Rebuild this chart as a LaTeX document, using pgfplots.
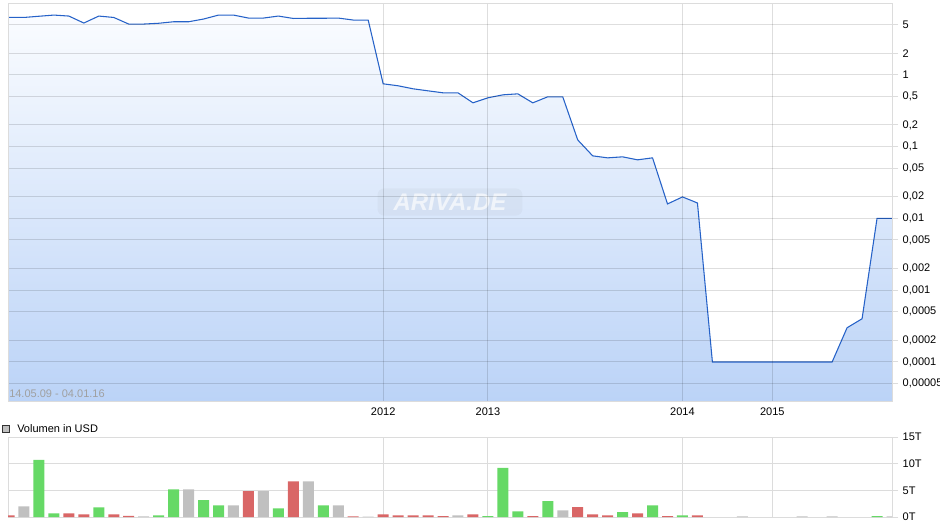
\documentclass[border=0pt]{standalone}
\usepackage{pgfplots}
\pgfplotsset{compat=1.18}
\usepackage{pgfplotstable}
\usepackage{fontspec}
\setmainfont{Liberation Sans}
\definecolor{gridc}{RGB}{220,220,220}
\definecolor{linec}{RGB}{38,98,200}
\definecolor{filltop}{RGB}{250,252,255}
\definecolor{fillbot}{RGB}{187,211,247}
\definecolor{vgreen}{RGB}{102,217,102}
\definecolor{vred}{RGB}{217,102,102}
\definecolor{vgray}{RGB}{192,192,192}
\definecolor{datec}{RGB}{160,160,160}
\pgfplotstableread{
i v
0 6.29
1 6.29
2 6.54
3 6.79
4 6.58
5 5.26
6 6.58
7 6.29
8 5.09
9 5.09
10 5.22
11 5.48
12 5.48
13 5.98
14 6.79
15 6.79
16 6.17
17 6.17
18 6.58
19 6.09
20 6.13
21 6.13
22 6.17
23 5.79
24 5.79
25 0.749
26 0.703
27 0.638
28 0.598
29 0.561
30 0.561
31 0.407
32 0.478
33 0.526
34 0.543
35 0.407
36 0.494
37 0.494
38 0.124
39 0.0743
40 0.0697
41 0.0720
42 0.0654
43 0.0697
44 0.0159
45 0.0199
46 0.0164
47 0.0001
48 0.0001
49 0.0001
50 0.0001
51 0.0001
52 0.0001
53 0.0001
54 0.0001
55 0.0001
56 0.0003
57 0.0004
58 0.01
59 0.01
}\price
\pgfplotstableread{
i v
2 10.7
3 0.7
6 1.8
10 0.3
11 5.2
13 3.15
14 2.2
18 1.6
21 2.2
32 0.15
33 9.2
34 1.07
36 2.96
41 0.9
43 2.2
45 0.3
58 0.15
}\volgreen
\pgfplotstableread{
i v
0 0.3
4 0.7
5 0.5
7 0.5
8 0.2
16 4.85
19 6.7
23 0.1
25 0.5
26 0.3
27 0.3
28 0.3
29 0.15
31 0.5
35 0.15
38 1.83
39 0.5
40 0.3
42 0.7
44 0.15
46 0.3
}\volred
\pgfplotstableread{
i v
1 2.0
9 0.1
12 5.2
15 2.2
17 4.85
20 6.7
22 2.2
24 0.05
30 0.3
37 1.26
49 0.1
53 0.1
55 0.1
59 0.1
}\volgray
\newcommand\lab{\fontsize{8.25}{10}\selectfont}
\begin{document}
\begin{tikzpicture}
\useasboundingbox (0pt,0pt) rectangle (705pt,394.5pt);
\begin{axis}[
  at={(6pt,93.75pt)}, anchor=south west, scale only axis,
  width=663pt, height=298.5pt,
  ymode=log,
  ymin=2.86e-5, ymax=10, xmin=-0.067, xmax=59,
  axis line style={gridc},
  axis on top,
  grid=major,
  major grid style={black, opacity=0.13, line width=0.75pt},
  yminorticks=false,
  ytick pos=right, tick align=outside, major tick length=4.5pt,
  ytick style={gridc, line width=0.75pt},
  xtick style={draw=none},
  ytick={0.00005,0.0001,0.0002,0.0005,0.001,0.002,0.005,0.01,0.02,0.05,0.1,0.2,0.5,1,2,5},
  yticklabels={{0,00005},{0,0001},{0,0002},{0,0005},{0,001},{0,002},{0,005},{0,01},{0,02},{0,05},{0,1},{0,2},{0,5},1,2,5},
  xtick={25,32,45,51},
  xticklabels={2012,2013,2014,2015},
  tick label style={font=\lab},
  xticklabel style={yshift=3pt},
]
\addplot[draw=none, top color=filltop, bottom color=fillbot] table[x=i,y=v]{\price} -- (axis cs:59,2.86e-5) -- (axis cs:0,2.86e-5) -- cycle;
\addplot[linec, line width=0.8pt] table[x=i,y=v]{\price};
\node[font=\fontsize{18}{18}\selectfont\bfseries\itshape, text=white, text opacity=0.65,
      fill=black!60, fill opacity=0.05, rounded corners=5pt, inner xsep=12pt, inner ysep=4pt]
      at (rel axis cs:0.5,0.5) {ARIVA.DE};
\node[font=\lab, text=datec, anchor=base west, inner sep=0pt] at (rel axis cs:0,0) [xshift=0.75pt, yshift=2.5pt] {14.05.09 - 04.01.16};
\end{axis}
\begin{axis}[
  at={(6pt,6.75pt)}, anchor=south west, scale only axis,
  width=663pt, height=60pt,
  xmin=-0.067, xmax=59, ymin=0, ymax=15,
  axis line style={gridc},
  grid=major,
  major grid style={gridc, line width=0.75pt},
  ytick pos=right, tick align=outside, major tick length=4.5pt,
  ytick style={gridc, line width=0.75pt},
  xtick style={draw=none},
  ytick={0,5,10,15},
  yticklabels={0T,5T,10T,15T},
  xtick={25,32,45,51},
  xticklabels={},
  tick label style={font=\lab},
  legend style={at={(0,1)}, anchor=south west, xshift=-5pt, yshift=0.5pt, draw=none, fill=none, font=\lab, inner sep=0pt, nodes={inner sep=1.5pt}},
  legend image code/.code={\path[draw=none,fill=none] (0pt,0pt) (10pt,0pt); \draw[#1] (0pt,-2.7pt) rectangle (5.5pt,2.8pt);},
]
\addlegendimage{fill=vgray, draw=black!80, line width=0.5pt}
\addlegendentry{Volumen in USD}
\addplot[ybar, bar width=8.25pt, bar shift=0pt, fill=vgreen, draw=none, forget plot] table[x=i,y=v]{\volgreen};
\addplot[ybar, bar width=8.25pt, bar shift=0pt, fill=vred, draw=none, forget plot] table[x=i,y=v]{\volred};
\addplot[ybar, bar width=8.25pt, bar shift=0pt, fill=vgray, draw=none, forget plot] table[x=i,y=v]{\volgray};
\end{axis}
\end{tikzpicture}
\end{document}
